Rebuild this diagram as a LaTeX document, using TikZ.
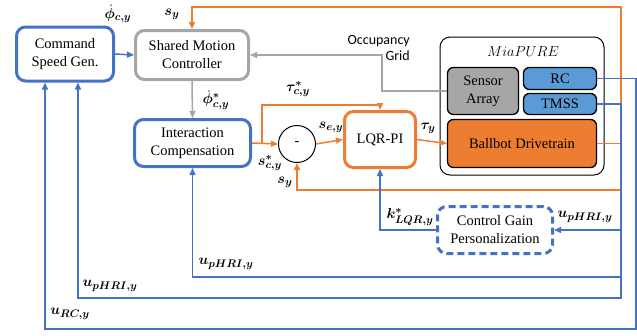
\documentclass[tikz,border=0pt]{standalone}
\usepackage{amsmath,amssymb,bm}
\usepackage{fontspec}
\setmainfont{Liberation Serif}
\newfontfamily\boxfont{Liberation Serif}
\newfontfamily\gridfont{Carlito}
\usetikzlibrary{arrows.meta}
\definecolor{cblue}{HTML}{4472C4}
\definecolor{corange}{HTML}{ED7D31}
\definecolor{cgray}{HTML}{A6A6A6}
\definecolor{cfillblue}{HTML}{5B9BD5}

\begin{document}
\begin{tikzpicture}[x=1pt,y=-1pt,>={Triangle[length=7pt,width=6pt]},
    font=\boxfont\fontsize{14.5}{18}\selectfont,
    bigbox/.style={draw,line width=3pt,rounded corners=9pt,align=center,fill=white},
    subbox/.style={draw=black,line width=1.3pt,rounded corners=6pt,align=center},
    lbl/.style={inner sep=0pt,font=\fontsize{15.5}{17}\selectfont}]
    \useasboundingbox (0,0) rectangle (637,335);

    % blocks
    \node[bigbox,draw=cblue,minimum width=97,minimum height=54] (csg) at (65,54) {Command\\Speed Gen.};
    \node[bigbox,draw=cgray,minimum width=113,minimum height=49] (smc) at (192,55) {Shared Motion\\Controller};
    \node[bigbox,draw=cblue,minimum width=116,minimum height=47] (ic) at (192.5,143) {Interaction\\Compensation};
    \node[draw,circle,line width=1pt,minimum size=37,inner sep=0pt] (sum) at (297,144) {-};
    \node[bigbox,draw=corange,minimum width=71,minimum height=56] (lqr) at (380,139.5) {LQR-PI};
    \node[bigbox,draw=cblue,dashed,dash pattern=on 7pt off 4pt,minimum width=115,minimum height=47] (cgp) at (495,230) {Control Gain\\Personalization};

    % MiaPURE
    \draw[line width=1pt,rounded corners=10pt] (440,37) rectangle (604,175);
    \node[lbl,font=\fontsize{14}{16}\selectfont] (mia) at (523,52) {$MiaPURE$};
    \node[subbox,fill=cgray,minimum width=71,minimum height=47] (sensor) at (483,91) {Sensor\\Array};
    \node[subbox,fill=cfillblue,minimum width=73,minimum height=22] (rc) at (560,78.5) {RC};
    \node[subbox,fill=cfillblue,minimum width=73,minimum height=21] (tmss) at (560,104) {TMSS};
    \node[subbox,fill=corange,minimum width=149,minimum height=48] (ball) at (522,143.5) {Ballbot Drivetrain};

    % gray paths
    \draw[->,cgray,line width=1.5pt] (smc.south) -- (ic.north);
    \draw[->,cgray,line width=1.5pt] (sensor.west) -| (382,55) -- (smc.east);
    \node[font=\gridfont\fontsize{14}{16}\selectfont,align=right,anchor=east,inner sep=0pt] (grid) at (410,48) {Occupancy\\Grid};

    % orange paths
    \coordinate (fbr) at (621,143.5);
    \coordinate (br) at (262,143);
    \draw[->,corange,line width=1.5pt] (ball.east) -| (621,7) -| (smc.north);
    \draw[->,corange,line width=1.5pt] (fbr) -- (621,190) -| (sum.south);
    \draw[->,corange,line width=1.5pt] (ic.east) -- (sum.west);
    \draw[->,corange,line width=1.5pt] (br) -- (262,105) -| (lqr.north);
    \draw[->,corange,line width=1.5pt] (sum.east) -- (lqr.west);
    \draw[->,corange,line width=1.5pt] (lqr.east) -- (ball.west);

    % blue paths
    \draw[->,cblue,line width=1.5pt] (csg.east) -- (smc.west);
    \draw[->,cblue,line width=1.5pt] (cgp.west) -| (lqr.south);
    \draw[->,cblue,line width=1.5pt] (tmss.east) -- (621,104) -- (621,298) -| ([xshift=13]csg.south);
    \draw[->,cblue,line width=1.5pt] (621,230) -- (cgp.east);
    \draw[->,cblue,line width=1.5pt] (621,277) -| (ic.south);
    \draw[->,cblue,line width=1.5pt] (rc.east) -- (636,78.5) -- (636,329) -| ([xshift=-20]csg.south);

    % labels
    \node[lbl] (lphi) at (118,14) {$\bm{\dot{\phi}_{c,y}}$};
    \node[lbl] (lsy) at (172,14) {$\bm{s_y}$};
    \node[lbl] (lphis) at (216,100) {$\bm{\dot{\phi}^{*}_{c,y}}$};
    \node[lbl] (ltaus) at (298,89) {$\bm{\tau^{*}_{c,y}}$};
    \node[lbl] (lscs) at (270,163) {$\bm{s^{*}_{c,y}}$};
    \node[lbl] (lsey) at (331,127) {$\bm{s_{e,y}}$};
    \node[lbl] (lsy2) at (285,182) {$\bm{s_y}$};
    \node[lbl] (ltau) at (428,128) {$\bm{\tau_y}$};
    \node[lbl] (lk) at (410,217) {$\bm{k^{*}_{LQR,y}}$};
    \node[lbl] (lu1) at (585,217) {$\bm{u_{pHRI,y}}$};
    \node[lbl] (lu2) at (226,264) {$\bm{u_{pHRI,y}}$};
    \node[lbl] (lu3) at (110,286) {$\bm{u_{pHRI,y}}$};
    \node[lbl] (lu4) at (70,314) {$\bm{u_{RC,y}}$};
\end{tikzpicture}
\end{document}
